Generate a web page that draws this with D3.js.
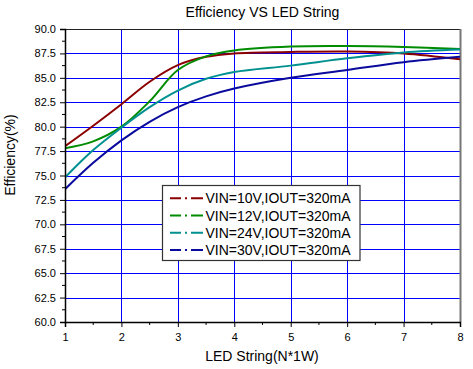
<!DOCTYPE html>
<html><head><meta charset="utf-8">
<script src="https://cdn.jsdelivr.net/npm/d3@7"></script>
<style>
html,body{margin:0;padding:0;background:#fff;}
text{font-family:"Liberation Sans",Arial,sans-serif;fill:#000;}
</style></head>
<body><svg id="c" width="473" height="369"></svg>
<script>
const xValues = [1, 1.5, 2, 2.5, 3, 3.5, 4, 5, 6, 7, 8];
const vin10 = [78.0, 80.1, 82.3, 84.6, 86.3, 87.15, 87.5, 87.65, 87.7, 87.5, 86.9];
const vin12 = [77.8, 78.5, 80.0, 82.6, 85.8, 87.2, 87.8, 88.2, 88.25, 88.15, 87.95];
const vin24 = [74.8, 77.6, 79.9, 82.0, 83.7, 84.9, 85.6, 86.25, 87.0, 87.6, 87.9];
const vin30 = [73.6, 76.3, 78.6, 80.5, 82.0, 83.1, 83.9, 85.0, 85.8, 86.6, 87.15];
const seriesNames = ["VIN=10V,IOUT=320mA","VIN=12V,IOUT=320mA","VIN=24V,IOUT=320mA","VIN=30V,IOUT=320mA"];
const seriesColors = ["#8b0000","#008c00","#009090","#0a0a9c"];
const xTicks = [1,2,3,4,5,6,7,8];
const yTicks = [60,62.5,65,67.5,70,72.5,75,77.5,80,82.5,85,87.5,90];
const titleText = "Efficiency VS LED String";
const xLabel = "LED String(N*1W)";
const yLabel = "Efficiency(%)";

const svg = d3.select("#c");
const L = 65, R = 460, T = 29, B = 322;
const x = d3.scaleLinear().domain([1,8]).range([L,R]);
const y = d3.scaleLinear().domain([60,90]).range([B,T]);

// grid
const g = svg.append("g");
g.selectAll("line.v").data(xTicks.slice(1,-1)).join("line")
  .attr("x1",d=>Math.round(x(d))+0.5).attr("x2",d=>Math.round(x(d))+0.5)
  .attr("y1",T).attr("y2",B).attr("stroke","#0000ff").attr("stroke-width",1);
g.selectAll("line.h").data(yTicks.slice(1,-1)).join("line")
  .attr("y1",d=>Math.round(y(d))+0.5).attr("y2",d=>Math.round(y(d))+0.5)
  .attr("x1",L).attr("x2",R).attr("stroke","#0000ff").attr("stroke-width",1);

// frame top/right
svg.append("line").attr("x1",L).attr("x2",R+1).attr("y1",T+0.5).attr("y2",T+0.5).attr("stroke","#222").attr("stroke-width",1);
svg.append("line").attr("x1",R+0.5).attr("x2",R+0.5).attr("y1",T).attr("y2",B).attr("stroke","#777").attr("stroke-width",2);

// curves
svg.append("clipPath").attr("id","cp").append("rect").attr("x",L).attr("y",T).attr("width",R-L).attr("height",B-T);
const line = d3.line().x(d=>x(d[0])).y(d=>y(d[1])).curve(d3.curveCatmullRom.alpha(0.5));
[vin10,vin12,vin24,vin30].forEach((s,i)=>{
  svg.append("path").attr("clip-path","url(#cp)")
    .datum(xValues.map((xv,j)=>[xv,s[j]]))
    .attr("d",line).attr("fill","none").attr("stroke",seriesColors[i]).attr("stroke-width",2);
});

// axes
const yAxis = d3.axisLeft(y).tickValues(yTicks).tickFormat(d3.format(".1f")).tickSize(5).tickPadding(4);
const ya = svg.append("g").attr("transform",`translate(${L},0)`).call(yAxis);
const yMinor = d3.range(61.25,90,2.5);
ya.selectAll("line.minor").data(yMinor).join("line").attr("class","minor")
  .attr("x1",0).attr("x2",-3).attr("y1",d=>y(d)).attr("y2",d=>y(d)).attr("stroke","#000");
const xAxis = d3.axisBottom(x).tickValues(xTicks).tickFormat(d3.format("d")).tickSize(5).tickPadding(6);
const xa = svg.append("g").attr("transform",`translate(0,${B})`).call(xAxis);
const xMinor = d3.range(1.5,8,1);
xa.selectAll("line.minor").data(xMinor).join("line").attr("class","minor")
  .attr("y1",0).attr("y2",3).attr("x1",d=>x(d)).attr("x2",d=>x(d)).attr("stroke","#000");
[ya,xa].forEach(a=>{
  a.select(".domain").attr("stroke","#000").attr("stroke-width",1.5);
  a.selectAll(".tick line").attr("stroke","#000");
  a.selectAll("text").style("font-family","'Liberation Sans',Arial,sans-serif").style("font-size","11px").attr("fill","#000");
});

// titles
svg.append("text").attr("x",262.5).attr("y",16.5).attr("text-anchor","middle").style("font-size","14px").text(titleText);
svg.append("text").attr("x",262).attr("y",361).attr("text-anchor","middle").style("font-size","14px").text(xLabel);
svg.append("text").attr("transform","translate(15,155) rotate(-90)").attr("text-anchor","middle").style("font-size","14px").text(yLabel);

// legend
const lg = svg.append("g");
lg.append("rect").attr("x",162.5).attr("y",185.5).attr("width",197.5).attr("height",75)
  .attr("fill","#fff").attr("stroke","#333").attr("stroke-width",1.2);
const rows = [198.3, 215.5, 232.7, 250];
seriesNames.forEach((n,i)=>{
  lg.append("line").attr("x1",170).attr("x2",203).attr("y1",rows[i]).attr("y2",rows[i])
    .attr("stroke",seriesColors[i]).attr("stroke-width",2).attr("stroke-dasharray","11,4,2,4,12");
  lg.append("text").attr("x",205.5).attr("y",rows[i]).attr("dy","0.36em").style("font-size","14px").text(n);
});
</script></body></html>
